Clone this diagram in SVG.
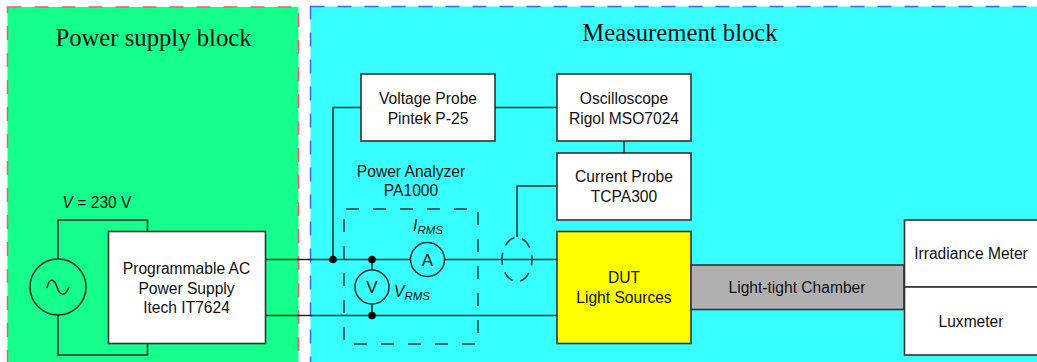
<svg xmlns="http://www.w3.org/2000/svg" width="1037" height="362" viewBox="0 0 1037 362">
<style>
text{font-family:"Liberation Sans",Arial,sans-serif;font-size:15.6px;fill:#111;text-anchor:middle}
.title{font-family:"Liberation Serif","Times New Roman",serif;font-size:24.7px}
.box{stroke:#333;stroke-width:1.6}
.w{fill:none;stroke:#1a2a2a;stroke-width:1.5}
.d{fill:none;stroke:#1a3a3a;stroke-width:1.5;stroke-dasharray:13 14}
.dot{fill:#000}
.i{font-style:italic}
.m{font-size:17px}
</style>
<rect width="1037" height="362" fill="#fff"/>
<g id="power-supply-block">
<rect x="7.5" y="7" width="291" height="360" fill="#14ff8c" stroke="#ff5a5a" stroke-width="1.5" stroke-dasharray="14 13"/>
<text class="title" x="153.500" y="46">Power supply block</text>
</g>
<g id="measurement-block">
<rect x="310.5" y="6.5" width="740" height="360" fill="#38ffff" stroke="#5a5aff" stroke-width="1.5" stroke-dasharray="14 13"/>
<text class="title" x="680" y="41">Measurement block</text>
</g>
<g id="connectors">
<path class="w" d="M58 259V220H147.500V232M58 315V355H147.500V343"/>
<path class="w" d="M265 259.500H557M265 315.500H557"/>
<path class="w" d="M333 259.500V107.500H361M495 107.500H557M624 141V153M557 186H517V237"/>
<path class="w" d="M372 259.500V270M372 304V315.500"/>
<circle class="dot" cx="333" cy="259.500" r="3.800"/>
<circle class="dot" cx="372" cy="259.500" r="3.800"/>
<circle class="dot" cx="372" cy="315.500" r="3.800"/>
</g>
<g id="power-analyzer">
<path class="d" d="M344 209H478V344H344Z" stroke-dashoffset="-2"/>
<text x="411" y="177">Power Analyzer</text>
<text x="411" y="196">PA1000</text>
</g>
<g id="ac-source">
<circle cx="58" cy="287" r="28" fill="none" stroke="#1a2a2a" stroke-width="1.5"/>
<path class="w" d="M47 288C49 278 54 278 57 287S65 297 69 287"/>
<text x="97" y="208"><tspan class="i">V</tspan> = 230 V</text>
</g>
<g id="power-supply">
<rect class="box" x="108.500" y="231.500" width="157" height="112" fill="#fff"/>
<text x="186.500" y="274">Programmable AC</text>
<text x="186.500" y="293.500">Power Supply</text>
<text x="186.500" y="312.500">Itech IT7624</text>
</g>
<g id="voltage-probe">
<rect class="box" x="361" y="74" width="134" height="67" fill="#fff"/>
<text x="428" y="103.500">Voltage Probe</text>
<text x="428" y="123.500">Pintek P-25</text>
</g>
<g id="oscilloscope">
<rect class="box" x="557" y="74" width="134" height="67" fill="#fff"/>
<text x="624" y="103.500">Oscilloscope</text>
<text x="624" y="123.500">Rigol MSO7024</text>
</g>
<g id="current-probe">
<rect class="box" x="557" y="153" width="134" height="67" fill="#fff"/>
<text x="624" y="182">Current Probe</text>
<text x="624" y="202">TCPA300</text>
</g>
<g id="current-clamp">
<ellipse cx="517" cy="259.500" rx="15" ry="22" fill="none" stroke="#1a3a3a" stroke-width="1.500" stroke-dasharray="12 7.700" stroke-dashoffset="6"/>
</g>
<g id="ammeter">
<circle cx="427.500" cy="259.500" r="17" fill="#38ffff" stroke="#1a2a2a" stroke-width="1.500"/>
<text class="m" x="427.500" y="265.500">A</text>
<text class="i" x="428" y="231">I<tspan font-size="11.500" dy="3">RMS</tspan></text>
</g>
<g id="voltmeter">
<circle cx="372" cy="287" r="17" fill="#38ffff" stroke="#1a2a2a" stroke-width="1.500"/>
<text class="m" x="372" y="293">V</text>
<text class="i" x="412" y="297">V<tspan font-size="11.500" dy="3">RMS</tspan></text>
</g>
<g id="dut">
<rect class="box" x="557" y="231.500" width="134" height="112" fill="#ff0"/>
<text x="624" y="283">DUT</text>
<text x="624" y="303">Light Sources</text>
</g>
<g id="chamber">
<rect class="box" x="691" y="265" width="213" height="44.500" fill="#b0b0b0"/>
<text x="797" y="293">Light-tight Chamber</text>
</g>
<g id="irradiance-meter">
<rect class="box" x="904.500" y="220" width="140" height="67" fill="#fff"/>
<text x="971" y="259">Irradiance Meter</text>
</g>
<g id="luxmeter">
<rect class="box" x="904.500" y="287" width="140" height="68" fill="#fff"/>
<text x="971" y="326.500">Luxmeter</text>
</g>
</svg>
